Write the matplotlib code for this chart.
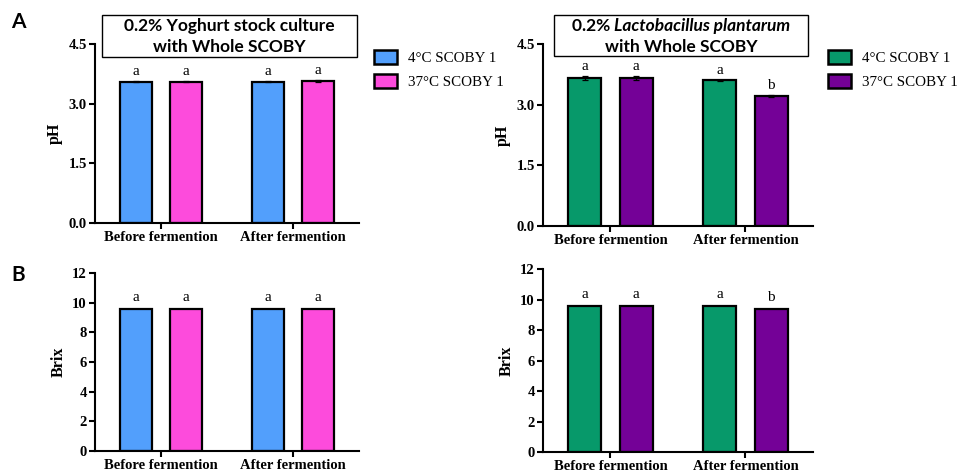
import numpy as np
import matplotlib.pyplot as plt
from matplotlib.patches import Patch, Rectangle

# data
groups = ['Before fermention', 'After fermention']
series_yog = ['4°C SCOBY 1', '37°C SCOBY 1']
series_lp = ['4°C SCOBY 1', '37°C SCOBY 1']

ph_yog_4 = [3.55, 3.55]
ph_yog_37 = [3.55, 3.57]
ph_yog_err_4 = [0.01, 0.01]
ph_yog_err_37 = [0.01, 0.02]
ph_yog_letters = [['a', 'a'], ['a', 'a']]

ph_lp_4 = [3.66, 3.60]
ph_lp_37 = [3.66, 3.22]
ph_lp_err_4 = [0.04, 0.01]
ph_lp_err_37 = [0.04, 0.02]
ph_lp_letters = [['a', 'a'], ['a', 'b']]

brix_yog_4 = [9.6, 9.6]
brix_yog_37 = [9.6, 9.6]
brix_yog_letters = [['a', 'a'], ['a', 'a']]

brix_lp_4 = [9.6, 9.6]
brix_lp_37 = [9.6, 9.4]
brix_lp_letters = [['a', 'a'], ['a', 'b']]

blue = '#529ffc'
pink = '#fd4bdc'
green = '#07996a'
purple = '#740197'

serif = 'Liberation Serif'
sans = 'Lato'

fig = plt.figure(figsize=(9.62, 4.73), dpi=100)
W, H = 962, 473


def make_ax(l, r, b, t):
    return fig.add_axes([l / W, 1 - b / H, (r - l) / W, (b - t) / H])


def draw(ax, v1, v2, e1, e2, c1, c2, letters, ymax, yticks, fmt, ylabel, off):
    x = np.arange(len(groups))
    w = 0.245
    d = 0.19
    ekw = dict(ecolor='black', elinewidth=0.9, capsize=2.5, capthick=0.9)
    ax.bar(x - d, v1, w, color=c1, edgecolor='black', linewidth=1.6, yerr=e1, error_kw=ekw)
    ax.bar(x + d, v2, w, color=c2, edgecolor='black', linewidth=1.6, yerr=e2, error_kw=ekw)
    for i in range(len(groups)):
        ax.text(x[i] - d, v1[i] + (e1[i] if e1 else 0) + off, letters[i][0],
                ha='center', va='bottom', fontsize=11, family=serif)
        ax.text(x[i] + d, v2[i] + (e2[i] if e2 else 0) + off, letters[i][1],
                ha='center', va='bottom', fontsize=11, family=serif)
    ax.set_xlim(-0.5, 1.5)
    ax.set_ylim(0, ymax)
    ax.set_yticks(yticks)
    ax.set_yticklabels([fmt.format(t) for t in yticks])
    ax.set_xticks(x)
    ax.set_xticklabels(groups)
    for lab in ax.get_xticklabels() + ax.get_yticklabels():
        lab.set_family(serif)
        lab.set_fontweight('bold')
        lab.set_fontsize(10.5)
    ax.set_ylabel(ylabel, family=serif, fontweight='bold', fontsize=11.5, labelpad=4)
    ax.spines['top'].set_visible(False)
    ax.spines['right'].set_visible(False)
    ax.spines['left'].set_linewidth(1.5)
    ax.spines['bottom'].set_linewidth(1.5)
    ax.tick_params(axis='both', width=1.5, length=4, pad=2)


ax1 = make_ax(95, 359, 223, 44)
draw(ax1, ph_yog_4, ph_yog_37, ph_yog_err_4, ph_yog_err_37, blue, pink,
     ph_yog_letters, 4.5, [0, 1.5, 3.0, 4.5], '{:.1f}', 'pH', 0.08)
ax2 = make_ax(543, 813, 226, 44)
draw(ax2, ph_lp_4, ph_lp_37, ph_lp_err_4, ph_lp_err_37, green, purple,
     ph_lp_letters, 4.5, [0, 1.5, 3.0, 4.5], '{:.1f}', 'pH', 0.08)
ax3 = make_ax(95, 359, 451, 273)
draw(ax3, brix_yog_4, brix_yog_37, None, None, blue, pink,
     brix_yog_letters, 12, [0, 2, 4, 6, 8, 10, 12], '{:d}', 'Brix', 0.3)
ax4 = make_ax(543, 813, 452, 269)
draw(ax4, brix_lp_4, brix_lp_37, None, None, green, purple,
     brix_lp_letters, 12, [0, 2, 4, 6, 8, 10, 12], '{:d}', 'Brix', 0.3)

# legends
for ax, cols, names, ax_r in [(ax1, (blue, pink), series_yog, 359),
                              (ax2, (green, purple), series_lp, 813)]:
    handles = [Patch(facecolor=c, edgecolor='black', linewidth=1.8) for c in cols]
    ax.legend(handles, names, loc='upper left',
              bbox_to_anchor=((ax_r + 15) / W, 1 - 50 / H), bbox_transform=fig.transFigure,
              frameon=False, prop={'family': serif, 'size': 10.8}, borderpad=0,
              borderaxespad=0, handlelength=1.55, handleheight=1.1,
              handletextpad=0.7, labelspacing=0.55)

# title boxes
fig.add_artist(Rectangle((102 / W, 1 - 57 / H), 255 / W, 42 / H, transform=fig.transFigure,
                         facecolor='white', edgecolor='black', linewidth=1))
fig.text(229.5 / W, 1 - 26 / H, '0.2% Yoghurt stock culture', ha='center', va='center',
         family=sans, fontweight='bold', fontsize=12.5)
fig.text(229.5 / W, 1 - 47 / H, 'with Whole SCOBY', ha='center', va='center',
         family=sans, fontweight='bold', fontsize=12.5)

fig.add_artist(Rectangle((554 / W, 1 - 56 / H), 254 / W, 41 / H, transform=fig.transFigure,
                         facecolor='white', edgecolor='black', linewidth=1))
t1 = fig.text(0, 1 - 26 / H, '0.2% ', ha='left', va='center',
              family=sans, fontweight='bold', fontsize=12.5)
t2 = fig.text(0, 1 - 26 / H, 'Lactobacillus plantarum', ha='left', va='center',
              family=sans, fontweight='bold', style='italic', fontsize=12.5)
r = fig.canvas.get_renderer()
w1 = t1.get_window_extent(r).width
w2 = t2.get_window_extent(r).width
x0 = 681 - (w1 + w2) / 2
t1.set_x(x0 / W)
t2.set_x((x0 + w1) / W)
fig.text(681 / W, 1 - 47 / H, 'with Whole SCOBY', ha='center', va='center',
         family=sans, fontweight='bold', fontsize=12.5)

fig.text(18 / W, 1 - 22 / H, 'A', ha='center', va='center', family=sans,
         fontweight='bold', fontsize=15)
fig.text(18 / W, 1 - 275 / H, 'B', ha='center', va='center', family=sans,
         fontweight='bold', fontsize=15)

fig.savefig('out.png', dpi=100, facecolor='white')
